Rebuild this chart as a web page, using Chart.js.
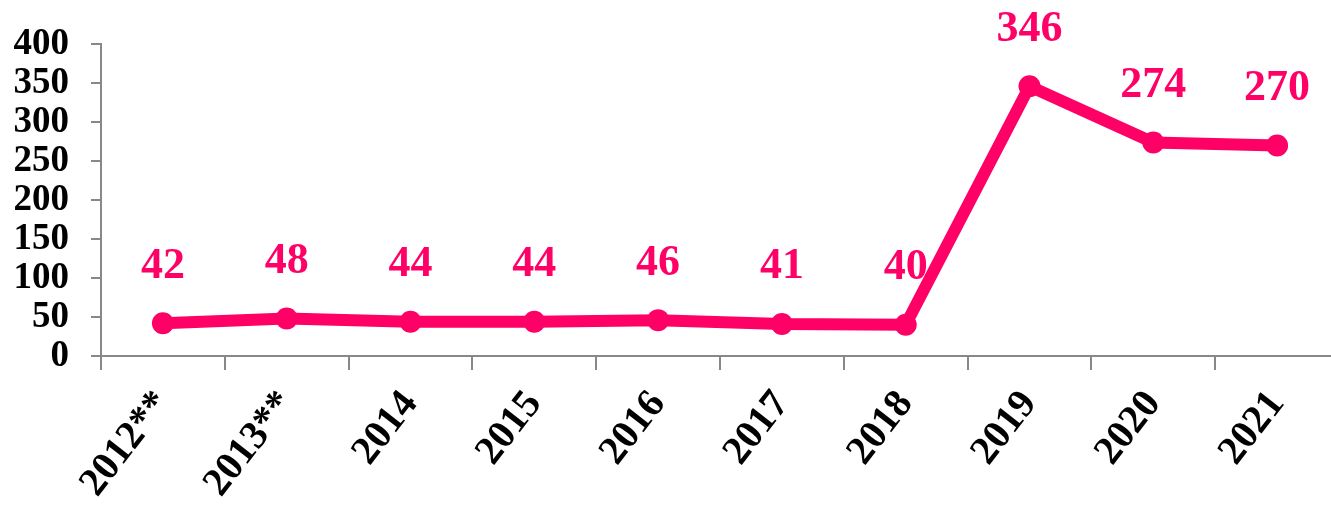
<!DOCTYPE html>
<html>
<head>
<meta charset="utf-8">
<script src="https://cdn.jsdelivr.net/npm/chart.js@4.4.0/dist/chart.umd.min.js"></script>
<style>
html,body{margin:0;padding:0;background:#fff;overflow:hidden;}
#wrap{width:1350px;height:505px;position:relative;}
</style>
</head>
<body>
<div id="wrap"><canvas id="c"></canvas></div>
<script>
const categories = ["2012**","2013**","2014","2015","2016","2017","2018","2019","2020","2021"];
const values = [42,48,44,44,46,41,40,346,274,270];
const yTicks = [0,50,100,150,200,250,300,350,400];

const COLOR = '#FF0066';
const AXIS = '#888888';
const FONT = '"Liberation Serif", "Times New Roman", serif';

const labelPlugin = {
  id: 'valueLabels',
  afterDatasetsDraw(chart) {
    const ctx = chart.ctx;
    const meta = chart.getDatasetMeta(0);
    ctx.save();
    ctx.font = 'bold 44px ' + FONT;
    ctx.fillStyle = COLOR;
    ctx.textAlign = 'center';
    ctx.textBaseline = 'middle';
    meta.data.forEach((pt, i) => {
      ctx.fillText(String(values[i]), pt.x, pt.y - 57);
    });
    ctx.restore();
  }
};

new Chart(document.getElementById('c'), {
  type: 'line',
  data: {
    labels: categories,
    datasets: [{
      data: values,
      borderColor: COLOR,
      backgroundColor: COLOR,
      borderWidth: 12,
      pointRadius: 11,
      pointHoverRadius: 11,
      pointBorderWidth: 0,
      tension: 0,
      fill: false
    }]
  },
  options: {
    responsive: true,
    maintainAspectRatio: false,
    animation: false,
    events: [],
    layout: { padding: { top: 42, right: 2, left: 0, bottom: 0 } },
    plugins: { legend: { display: false }, tooltip: { enabled: false } },
    scales: {
      x: {
        type: 'category',
        offset: true,
        grid: { offset: true, drawOnChartArea: false, drawTicks: true, tickLength: 14, color: AXIS, lineWidth: 2 },
        border: { display: true, color: AXIS, width: 2 },
        ticks: { color: '#000', font: { family: FONT, size: 40, weight: 'bold' }, minRotation: 52, maxRotation: 52, padding: 12, autoSkip: false },
        afterFit(scale) { scale.height = 149; }
      },
      y: {
        min: 0, max: 400,
        afterBuildTicks(scale) { scale.ticks = yTicks.map(v => ({ value: v })); },
        grid: { drawOnChartArea: false, drawTicks: true, tickLength: 10, color: AXIS, lineWidth: 2 },
        border: { display: true, color: AXIS, width: 2 },
        ticks: { color: '#000', font: { family: FONT, size: 37, weight: 'bold' }, padding: 22, autoSkip: false },
        afterFit(scale) { scale.width = 101; }
      }
    }
  },
  plugins: [labelPlugin]
});
</script>
</body>
</html>
